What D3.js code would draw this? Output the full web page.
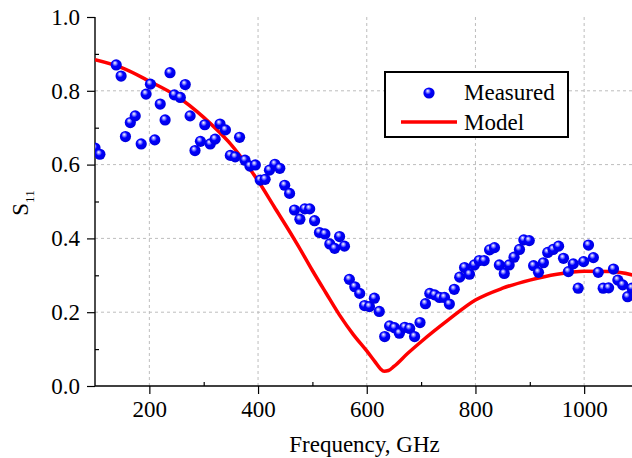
<!DOCTYPE html>
<html>
<head>
<meta charset="utf-8">
<script src="https://cdn.jsdelivr.net/npm/d3@7"></script>
<style>
  html, body { margin: 0; padding: 0; background: #fff; }
  svg { display: block; }
  svg text { font-family: "Liberation Serif", "Times New Roman", serif; }
</style>
</head>
<body>
<div id="chart"></div>
<script>
// Measured S11 reflection data (frequency in GHz)
const measuredFreq = [100, 109, 139, 148, 156, 165, 174, 185, 194, 202, 210, 220, 229, 238, 246, 257,
  266, 275, 284, 294, 302, 312, 321, 330, 340, 349, 358, 366, 376, 385, 395, 404, 413, 421, 431,
  440, 449, 458, 467, 477, 486, 495, 504, 513, 523, 532, 541, 550, 559, 568, 578, 587, 596, 605,
  614, 623, 633, 642, 651, 660, 670, 679, 688, 698, 708, 716, 725, 734, 743, 752, 761, 771, 780,
  789, 798, 807, 816, 826, 835, 844, 853, 862, 871, 881, 889, 899, 907, 916, 925, 933, 943, 953,
  962, 971, 980, 989, 999, 1008, 1017, 1026, 1035, 1045, 1054, 1062, 1071, 1080, 1088];
const measuredS11 = [0.645, 0.628, 0.870, 0.840, 0.676, 0.714, 0.732, 0.656, 0.791, 0.818, 0.667,
  0.764, 0.721, 0.849, 0.789, 0.782, 0.817, 0.732, 0.638, 0.663, 0.708, 0.656, 0.669, 0.710, 0.694,
  0.625, 0.621, 0.674, 0.612, 0.596, 0.599, 0.558, 0.560, 0.585, 0.601, 0.590, 0.544, 0.522, 0.477,
  0.452, 0.480, 0.480, 0.448, 0.416, 0.412, 0.385, 0.373, 0.405, 0.379, 0.289, 0.269, 0.251, 0.218,
  0.215, 0.238, 0.202, 0.134, 0.163, 0.158, 0.143, 0.159, 0.156, 0.134, 0.172, 0.223, 0.251, 0.247,
  0.240, 0.240, 0.222, 0.262, 0.295, 0.321, 0.303, 0.328, 0.340, 0.340, 0.369, 0.375, 0.328, 0.305,
  0.328, 0.349, 0.370, 0.396, 0.394, 0.326, 0.308, 0.334, 0.362, 0.370, 0.379, 0.346, 0.310, 0.331,
  0.265, 0.337, 0.382, 0.348, 0.308, 0.265, 0.266, 0.317, 0.287, 0.274, 0.242, 0.265];

// Model curve samples
const modelFreq = [100, 150, 200, 250, 300, 330, 350, 380, 400, 430, 460, 475, 500, 525, 550, 575,
  600, 615, 625, 632, 640, 650, 675, 700, 750, 800, 850, 900, 950, 1000, 1050, 1100];
const modelS11 = [0.884, 0.862, 0.826, 0.786, 0.728, 0.686, 0.655, 0.598, 0.556, 0.485, 0.414,
  0.377, 0.313, 0.252, 0.192, 0.140, 0.095, 0.066, 0.047, 0.040, 0.042, 0.053, 0.088, 0.120, 0.179,
  0.233, 0.265, 0.287, 0.303, 0.311, 0.310, 0.297];

const xTicks = [200, 400, 600, 800, 1000];
const xMinorTicks = [300, 500, 700, 900];
const yTicks = [0.0, 0.2, 0.4, 0.6, 0.8, 1.0];
const yMinorTicks = [0.1, 0.3, 0.5, 0.7, 0.9];
const legendLabels = ["Measured", "Model"];

const W = 632, H = 458;
const m = { left: 95, right: 638.5, top: 17, bottom: 386 };
const serif = '"Liberation Serif", "Times New Roman", serif';

const svg = d3.select("#chart").append("svg").attr("width", W).attr("height", H);

const x = d3.scaleLinear().domain([100, 1100]).range([m.left, m.right]);
const y = d3.scaleLinear().domain([0, 1]).range([m.bottom, m.top]);

const defs = svg.append("defs");
const grad = defs.append("radialGradient").attr("id", "sphere")
  .attr("cx", "0.45").attr("cy", "0.45").attr("r", "0.6")
  .attr("fx", "0.38").attr("fy", "0.3");
grad.append("stop").attr("offset", "0%").attr("stop-color", "#ffffff");
grad.append("stop").attr("offset", "22%").attr("stop-color", "#8a8aff");
grad.append("stop").attr("offset", "45%").attr("stop-color", "#0000ff");
grad.append("stop").attr("offset", "100%").attr("stop-color", "#0000d8");

defs.append("clipPath").attr("id", "plotClip")
  .append("rect").attr("x", m.left).attr("y", m.top - 10)
  .attr("width", W - m.left).attr("height", m.bottom - m.top + 10);

// Grid lines
const grid = svg.append("g");
grid.selectAll("line.gx").data(xTicks).join("line")
  .attr("x1", d => x(d)).attr("x2", d => x(d)).attr("y1", m.top).attr("y2", m.bottom)
  .attr("stroke", "#bdbdbd").attr("stroke-width", 1).attr("stroke-dasharray", "3,3");
grid.selectAll("line.gy").data(yTicks.filter(d => d > 0 && d < 1)).join("line")
  .attr("x1", m.left).attr("x2", W).attr("y1", d => y(d)).attr("y2", d => y(d))
  .attr("stroke", "#bdbdbd").attr("stroke-width", 1).attr("stroke-dasharray", "3,3");

// Axes: major ticks outward, minor ticks inward
const xAxis = svg.append("g").attr("transform", `translate(0,${m.bottom})`)
  .call(d3.axisBottom(x).tickValues(xTicks).tickFormat(d3.format("d")).tickSize(8).tickSizeOuter(0).tickPadding(7));
const yAxis = svg.append("g").attr("transform", `translate(${m.left},0)`)
  .call(d3.axisLeft(y).tickValues(yTicks).tickFormat(d3.format(".1f")).tickSize(8).tickSizeOuter(0).tickPadding(7));
svg.append("g").attr("transform", `translate(0,${m.bottom})`)
  .call(d3.axisTop(x).tickValues(xMinorTicks).tickFormat("").tickSize(4).tickSizeOuter(0))
  .call(g => g.select(".domain").remove());
svg.append("g").attr("transform", `translate(${m.left},0)`)
  .call(d3.axisRight(y).tickValues(yMinorTicks).tickFormat("").tickSize(4).tickSizeOuter(0))
  .call(g => g.select(".domain").remove());

[xAxis, yAxis].forEach(g => {
  g.attr("font-family", null).attr("font-size", null);
  g.select(".domain").attr("stroke", "#000").attr("stroke-width", 1.4);
  g.selectAll(".tick text").style("font-family", serif).style("font-size", "23px").attr("fill", "#000");
});
svg.selectAll(".tick line").attr("stroke", "#000").attr("stroke-width", 1.2);
xAxis.select(".domain").attr("d", `M${m.left},0H${W}`);
yAxis.select(".domain").attr("d", `M0,${m.bottom}V${m.top}`);

// Plot content
const plot = svg.append("g").attr("clip-path", "url(#plotClip)");

const line = d3.line().x(d => x(d[0])).y(d => y(d[1])).curve(d3.curveMonotoneX);
plot.append("path").datum(modelFreq.map((f, i) => [f, modelS11[i]]))
  .attr("d", line).attr("fill", "none").attr("stroke", "#ff0000").attr("stroke-width", 3.5)
  .attr("stroke-linejoin", "round");

plot.selectAll("circle.m").data(measuredFreq.map((f, i) => [f, measuredS11[i]])).join("circle")
  .attr("cx", d => x(d[0])).attr("cy", d => y(d[1])).attr("r", 5.6)
  .attr("fill", "url(#sphere)");

// Axis titles
svg.append("text").attr("x", (m.left + W) / 2 + 1).attr("y", 452).attr("text-anchor", "middle")
  .style("font-size", "23px").attr("fill", "#000").text("Frequency, GHz");
const yl = svg.append("text").attr("transform", "translate(28,203) rotate(-90)")
  .attr("text-anchor", "middle").style("font-size", "23px").attr("fill", "#000");
yl.append("tspan").text("S");
yl.append("tspan").style("font-size", "13px").attr("dy", 6).text("11");

// Legend
const lg = svg.append("g");
lg.append("rect").attr("x", 385).attr("y", 72).attr("width", 183).attr("height", 65)
  .attr("fill", "#fff").attr("stroke", "#000").attr("stroke-width", 2);
lg.append("circle").attr("cx", 429).attr("cy", 93).attr("r", 5.6).attr("fill", "url(#sphere)");
lg.append("line").attr("x1", 401).attr("x2", 457).attr("y1", 122).attr("y2", 122)
  .attr("stroke", "#ff0000").attr("stroke-width", 3.5);
lg.selectAll("text").data(legendLabels).join("text")
  .attr("x", 464).attr("y", (d, i) => 100 + i * 30)
  .style("font-size", "23px").attr("fill", "#000").text(d => d);
</script>
</body>
</html>
